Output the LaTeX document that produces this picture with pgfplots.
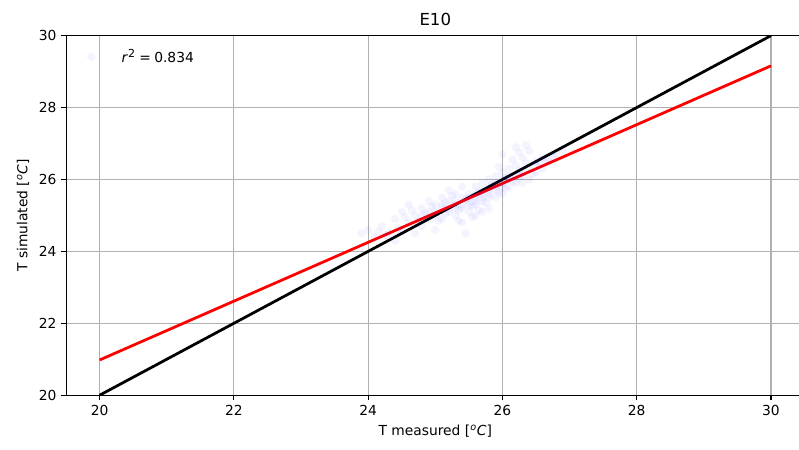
\documentclass[border=0pt]{standalone}
\usepackage{pgfplots}
\pgfplotsset{compat=1.18}
\usepackage{fontspec}
\setmainfont{DejaVu Sans}
\pgfplotstableread{
x y
24.0 24.6
23.9 24.5
24.1 24.4
24.2 24.7
24.3 24.5
24.4 24.9
24.4 24.3
24.5 24.6
24.5 25.1
24.6 24.8
24.6 25.3
24.7 24.5
24.7 25.0
24.8 25.2
24.8 24.7
24.9 25.4
24.9 24.9
24.9 25.1
25.0 25.0
25.0 25.3
25.0 24.6
25.1 25.5
25.1 25.2
25.1 24.9
25.2 25.4
25.2 25.1
25.2 25.7
25.3 25.3
25.3 25.0
25.3 25.6
25.4 25.5
25.4 25.2
25.4 24.8
25.4 25.8
25.5 25.4
25.5 25.6
25.5 25.1
25.45 24.5
25.6 25.5
25.6 25.8
25.6 25.3
25.6 25.0
25.7 25.6
25.7 25.9
25.7 25.4
25.7 25.1
25.8 25.7
25.8 26.0
25.8 25.5
25.8 25.2
25.9 25.8
25.9 26.1
25.9 25.5
26.0 25.9
26.0 26.2
26.0 25.6
26.1 26.0
26.1 26.3
26.1 25.8
26.2 26.1
26.2 26.4
26.2 25.9
26.3 26.2
26.3 25.9
26.3 26.6
26.4 26.3
26.4 26.0
26.5 26.5
26.5 26.2
26.6 26.6
26.6 26.3
26.7 26.5
26.8 26.7
26.9 26.8
26.2 26.9
26.4 26.8
26.0 26.7
26.35 26.95
25.3 25.4
25.5 25.5
25.6 25.6
25.7 25.7
25.8 25.8
25.9 25.9
26.0 26.0
26.1 26.1
25.4 25.3
25.5 25.3
25.6 25.4
25.8 25.6
25.9 25.7
26.0 25.8
25.2 25.2
25.3 25.2
25.7 25.5
26.3 26.1
26.5 26.4
24.8 25.0
25.0 25.1
25.1 25.3
24.55 24.95
24.65 25.15
24.75 24.85
24.85 25.05
24.95 25.25
25.05 24.85
25.15 25.35
25.25 25.55
25.35 25.15
25.45 25.45
25.55 25.25
25.65 25.65
25.75 25.35
25.85 25.85
25.95 25.65
26.05 26.05
26.15 25.95
26.25 26.25
26.35 26.45
26.45 26.15
26.55 26.45
26.65 26.55
26.75 26.65
26.25 26.75
26.15 26.55
25.95 26.35
25.65 25.15
25.55 24.95
25.35 24.85
25.15 25.05
24.45 24.65
24.25 24.45
24.15 24.55
26.05 25.75
26.25 26.05
}\scatterdata
\begin{document}
\begin{tikzpicture}
\useasboundingbox (-47.8pt,-39.6pt) rectangle (530.4pt,286pt);
\begin{axis}[
  at={(0,0)}, anchor=south west,
  scale only axis, width=534.4pt, height=260.2pt,
  xmin=19.5, xmax=30.5, ymin=20, ymax=30,
  xtick={20,22,...,30}, ytick={20,22,...,30},
  grid=major,
  major grid style={color=black!31, line width=0.8pt},
  axis line style={line width=0.8pt},
  tick style={black, line width=0.8pt},
  tick align=outside, major tick length=3.5pt,
  xtick pos=bottom, ytick pos=left,
  /pgf/number format/assume math mode=true,
  ticklabel style={font=\fontsize{10}{12}\selectfont},
  title={E10},
  title style={font=\fontsize{12}{14}\selectfont, yshift=-2pt},
  xlabel={T measured [\textsuperscript{\textit{o}}\textit{C}]},
  ylabel={T simulated [\textsuperscript{\textit{o}}\textit{C}]},
  label style={font=\fontsize{10}{12}\selectfont},
  legend style={at={(0.0226,0.978)}, anchor=north west, draw=none, fill=none,
    font=\fontsize{10}{12}\selectfont},
  legend cell align=left,
]
\addplot[only marks, mark=*, mark size=3pt, color=blue,
  mark options={draw opacity=0, fill opacity=0.045}]
  table[x=x, y=y] {\scatterdata};
\addlegendentry{\hspace{17pt}\textit{r}\textsuperscript{\fontsize{8}{8}\selectfont 2}\hspace{2.5pt}=\hspace{2.5pt}0.834}
\addplot[black, line width=2pt, forget plot] coordinates {(20,20) (30,30)};
\addplot[red, line width=2pt, forget plot] coordinates {(20,20.98) (30,29.16)};
\end{axis}
\end{tikzpicture}
\end{document}
